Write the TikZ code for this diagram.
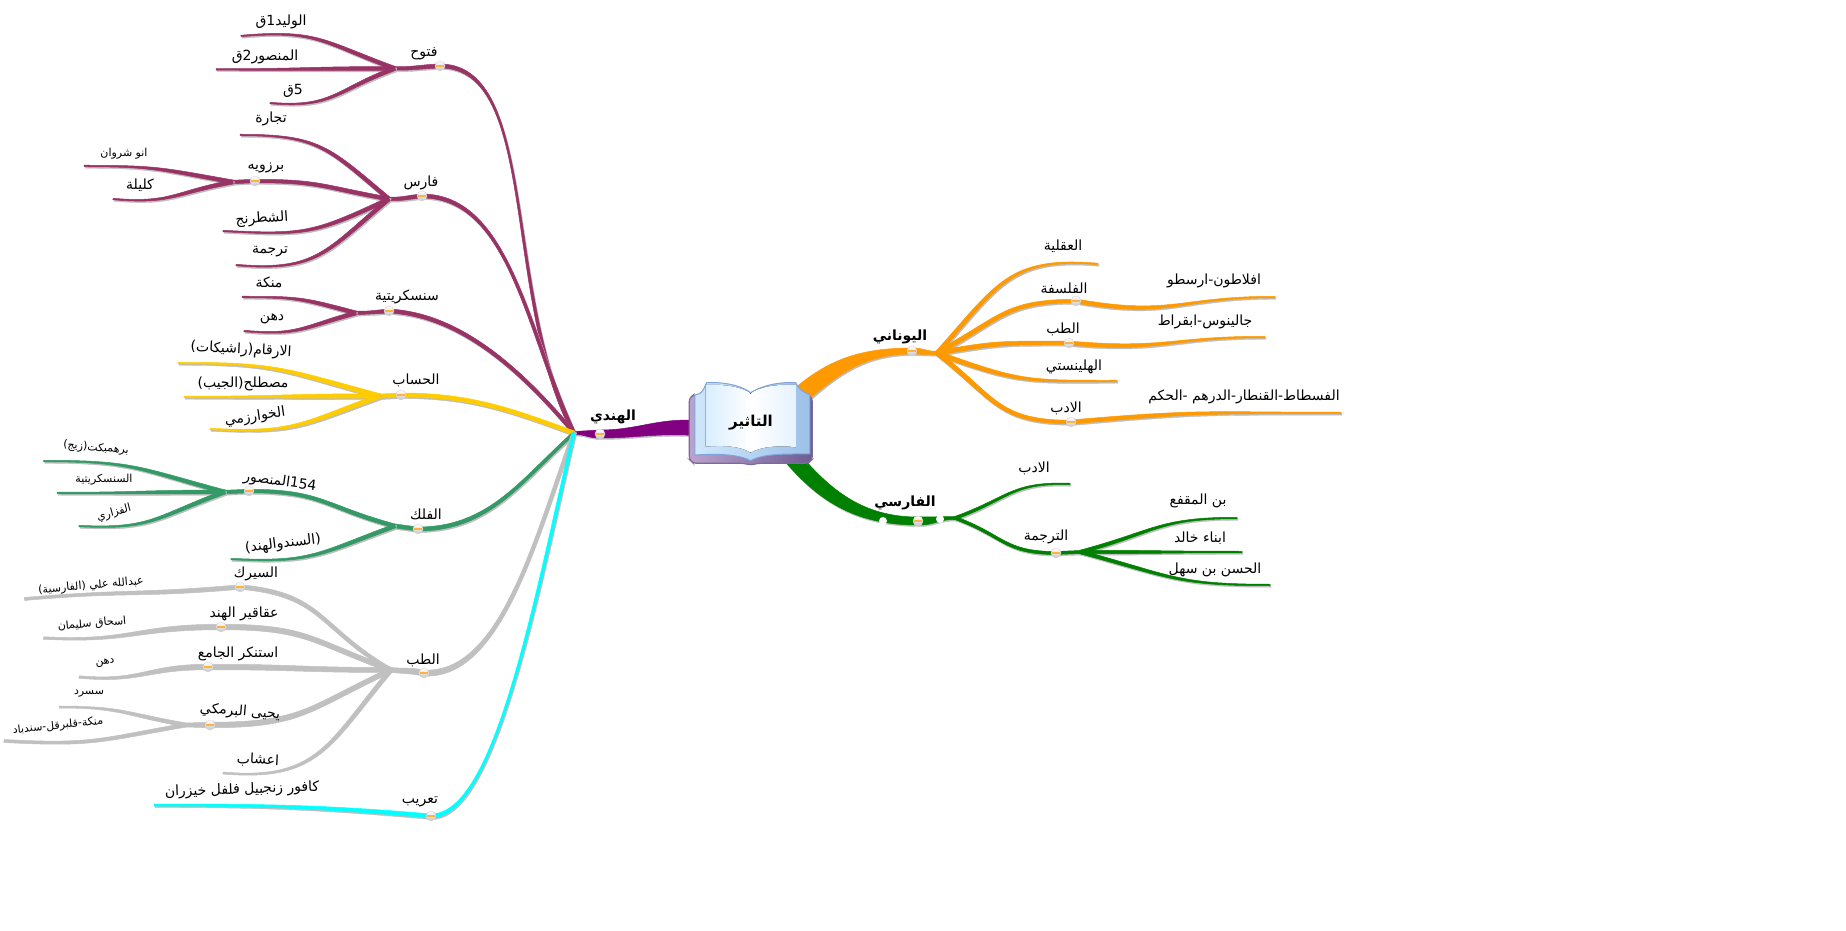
\documentclass[tikz,border=0pt]{standalone}
\usepackage{fontspec}
\newfontfamily\arabicfont[Script=Arabic]{DejaVu Sans}
\TeXXeTstate=1
\definecolor{plumc}{HTML}{993366}
\definecolor{goldc}{HTML}{FFCC00}
\definecolor{seac}{HTML}{339966}
\definecolor{greyc}{HTML}{C0C0C0}
\definecolor{cyanc}{HTML}{00FFFF}
\definecolor{purplec}{HTML}{800080}
\definecolor{orangec}{HTML}{FF9900}
\definecolor{greenc}{HTML}{008000}
\definecolor{shadowc}{HTML}{BDBDBD}
\definecolor{coverl}{HTML}{BBA3CC}
\definecolor{coverr}{HTML}{6E5C92}
\definecolor{coverb}{HTML}{7C6A9C}
\definecolor{pagel}{HTML}{CFE7FC}
\definecolor{pager}{HTML}{9CC0E8}
\definecolor{pageb}{HTML}{7FA3DE}
\definecolor{leafl}{HTML}{D8EEFF}
\definecolor{leafr}{HTML}{E6F2FF}
\tikzset{
looseout/.store in=\limbout, loosein/.store in=\limbin, looseout=1.25, loosein=1.25,
taper/.style n args={4}{to path={
    ([shift={(#3+90:#1/2)}]\tikztostart) coordinate (la)
    ([shift={(#3-90:#1/2)}]\tikztostart) coordinate (lb)
    ([shift={(#4-90:#2/2)}]\tikztotarget) coordinate (lc)
    ([shift={(#4+90:#2/2)}]\tikztotarget) coordinate (ld)
    (la) to[out=#3, in=#4, out looseness=\limbout, in looseness=\limbin] (lc) -- (ld)
    to[out=#4, in=#3, out looseness=\limbin, in looseness=\limbout] (lb) -- cycle}},
limb/.style={line width=.5pt, line join=round,
    preaction={draw=shadowc, fill=shadowc, transform canvas={shift={(1pt,-1.5pt)}}}},
plumlimb/.style={limb, draw=plumc, fill=plumc},
goldlimb/.style={limb, draw=goldc, fill=goldc},
sealimb/.style={limb, draw=seac, fill=seac},
greylimb/.style={draw=greyc, fill=greyc, line width=.5pt, line join=round},
cyanlimb/.style={limb, draw=cyanc, fill=cyanc},
purplelimb/.style={limb, draw=purplec, fill=purplec},
orangelimb/.style={limb, draw=orangec, fill=orangec},
greenlimb/.style={limb, draw=greenc, fill=greenc},
bullet/.style={circle, minimum size=10pt, inner sep=0pt, draw=gray!35, top color=white, bottom color=gray!45,
    path picture={\draw[orangec!75!white, line width=1.3pt] ([xshift=-4pt]path picture bounding box.center) -- ([xshift=4pt]path picture bounding box.center);}},
dotnode/.style={circle, minimum size=8pt, inner sep=0pt, fill=white},
lab/.style={inner sep=0pt, font=\arabicfont\fontsize{14}{16}\selectfont},
smalllab/.style={inner sep=0pt, font=\arabicfont\fontsize{11}{13}\selectfont},
headlab/.style={inner sep=0pt, font=\arabicfont\bfseries\fontsize{14}{16}\selectfont},
}
\newcommand{\rtl}[1]{\beginR #1\endR}

\begin{document}
\begin{tikzpicture}[x=1pt, y=1pt]
\useasboundingbox (0,0) rectangle (1846,930);
    \node[minimum width=123pt, minimum height=81pt, inner sep=0pt] (book) at (750.5,506.5) {};
    \coordinate (hindis) at (695,502);
    \coordinate (yunanis) at (795,530);
    \coordinate (farsis) at (790,475);
    % left side
    \coordinate (hindib) at (600,496);
    \coordinate (hindij) at (574,497);
    \coordinate (fathb) at (440,864);
    \coordinate (fathj) at (395,861.5);
    \coordinate (walid) at (241,894);
    \coordinate (mansur) at (216,860.5);
    \coordinate (kaf) at (270,827);
    \coordinate (farisb) at (422,734);
    \coordinate (farisj) at (389,731);
    \coordinate (tijara) at (240,795);
    \coordinate (barzb) at (255,749);
    \coordinate (barzj) at (233,748);
    \coordinate (anu) at (84,764);
    \coordinate (kalila) at (113,731);
    \coordinate (shatranj) at (223,699);
    \coordinate (tarjama) at (236,665);
    \coordinate (sansb) at (389,619);
    \coordinate (sansj) at (356,617);
    \coordinate (manka) at (242,633);
    \coordinate (dahan) at (244,599);
    \coordinate (hisabb) at (401,535);
    \coordinate (hisabj) at (380,534);
    \coordinate (arqam) at (178,567);
    \coordinate (mustalah) at (184,533);
    \coordinate (khwarizmi) at (210,501);
    \coordinate (falakb) at (418,401);
    \coordinate (falakj) at (395,404);
    \coordinate (mansb) at (249,439);
    \coordinate (mansj) at (225,438);
    \coordinate (brahma) at (43.5,469);
    \coordinate (sanskrit) at (57,437);
    \coordinate (fazari) at (79,404);
    \coordinate (sindh) at (231,371);
    \coordinate (tibbb) at (424,257);
    \coordinate (tibbj) at (391,260);
    \coordinate (sirkb) at (240,343);
    \coordinate (abdalla) at (24.5,331);
    \coordinate (aqaqb) at (221,303);
    \coordinate (ishaq) at (43.5,292);
    \coordinate (istankb) at (208,263);
    \coordinate (duhn) at (79,253);
    \coordinate (yahyab) at (210,205);
    \coordinate (yahyaj) at (186,205);
    \coordinate (samrad) at (59,223);
    \coordinate (qalbar) at (4,189);
    \coordinate (ashab) at (223,157);
    \coordinate (taribb) at (431,114);
    \coordinate (kafur) at (154,125);
    % right side
    \coordinate (yunanib) at (912,579);
    \coordinate (yunanij) at (937,577);
    \coordinate (aqli) at (1098,666);
    \coordinate (falsb) at (1076,629);
    \coordinate (aflatun) at (1275,633);
    \coordinate (tibrb) at (1069,587);
    \coordinate (jalinus) at (1265,593);
    \coordinate (hellen) at (1117,549);
    \coordinate (adabb) at (1071,508);
    \coordinate (fustat) at (1341,517);
    \coordinate (farsib) at (918,409);
    \coordinate (farsij) at (955,412);
    \coordinate (adabf) at (1070,446);
    \coordinate (tarb) at (1056,377);
    \coordinate (tarj) at (1080,378);
    \coordinate (muqaffa) at (1237,412);
    \coordinate (abna) at (1242,378);
    \coordinate (hasan) at (1270,345);
    \draw
        (hindis) edge[purplelimb, taper={15}{8}{176}{0}, looseout=1, loosein=1] (hindib)
        (hindib) edge[purplelimb, taper={8}{3}{180}{0}] (hindij)
        ;
    \draw
        (hindij) edge[plumlimb, taper={3.5}{4}{118}{0}, looseout=1, loosein=.65] (fathb)
        (hindij) edge[plumlimb, taper={3.5}{4}{115}{0}, looseout=1, loosein=.8] (farisb)
        (hindij) edge[plumlimb, taper={3.5}{4}{130}{-3}, looseout=1, loosein=.8] (sansb)
        (fathb) edge[plumlimb, taper={4}{3.5}{182}{0}] (fathj)
        (fathj) edge[plumlimb, taper={4}{1.5}{160}{5}] (walid)
        (fathj) edge[plumlimb, taper={4}{1.5}{180}{0}] (mansur)
        (fathj) edge[plumlimb, taper={4}{1.5}{200}{-5}] (kaf)
        (farisb) edge[plumlimb, taper={4}{3.5}{185}{0}] (farisj)
        (farisj) edge[plumlimb, taper={4}{1.5}{140}{0}] (tijara)
        (farisj) edge[plumlimb, taper={4}{3.5}{170}{0}] (barzb)
        (barzb) edge[plumlimb, taper={3.5}{3.5}{180}{0}] (barzj)
        (barzj) edge[plumlimb, taper={4}{1.5}{170}{0}] (anu)
        (barzj) edge[plumlimb, taper={4}{1.5}{190}{-5}] (kalila)
        (farisj) edge[plumlimb, taper={4}{1.5}{205}{-3}] (shatranj)
        (farisj) edge[plumlimb, taper={4}{1.5}{220}{-5}] (tarjama)
        (sansb) edge[plumlimb, taper={4}{3.5}{185}{0}] (sansj)
        (sansj) edge[plumlimb, taper={4}{1.5}{165}{0}] (manka)
        (sansj) edge[plumlimb, taper={4}{1.5}{195}{-5}] (dahan)
        ;
    \draw
        (hindij) edge[goldlimb, taper={4}{4}{160}{0}, looseout=1, loosein=1] (hisabb)
        (hisabb) edge[goldlimb, taper={4}{4}{182}{0}] (hisabj)
        (hisabj) edge[goldlimb, taper={4.5}{1.5}{165}{0}] (arqam)
        (hisabj) edge[goldlimb, taper={4.5}{1.5}{180}{0}] (mustalah)
        (hisabj) edge[goldlimb, taper={4.5}{1.5}{200}{-3}] (khwarizmi)
        ;
    \draw
        (hindij) edge[sealimb, taper={3}{4}{222}{0}, looseout=1, loosein=1] (falakb)
        (falakb) edge[sealimb, taper={4}{4}{175}{-5}] (falakj)
        (falakj) edge[sealimb, taper={4}{3.5}{165}{0}] (mansb)
        (falakj) edge[sealimb, taper={4}{1.5}{200}{-3}] (sindh)
        (mansb) edge[sealimb, taper={3.5}{3.5}{180}{0}] (mansj)
        (mansj) edge[sealimb, taper={4}{1.5}{165}{0}] (brahma)
        (mansj) edge[sealimb, taper={4}{1.5}{180}{0}] (sanskrit)
        (mansj) edge[sealimb, taper={4}{1.5}{200}{-3}] (fazari)
        ;
    \draw
        (hindij) edge[greylimb, taper={4}{6}{250}{-3}, looseout=1, loosein=.7] (tibbb)
        (tibbb) edge[greylimb, taper={6}{5}{170}{-5}] (tibbj)
        (tibbj) edge[greylimb, taper={4}{4.5}{150}{-5}] (sirkb)
        (tibbj) edge[greylimb, taper={5}{5.5}{160}{0}] (aqaqb)
        (tibbj) edge[greylimb, taper={5}{5.5}{180}{0}] (istankb)
        (tibbj) edge[greylimb, taper={5}{5.5}{205}{0}] (yahyab)
        (tibbj) edge[greylimb, taper={4.5}{2}{230}{-5}] (ashab)
        (sirkb) edge[greylimb, taper={4.5}{3}{185}{5}] (abdalla)
        (aqaqb) edge[greylimb, taper={5.5}{2.5}{180}{-3}] (ishaq)
        (istankb) edge[greylimb, taper={5.5}{2.5}{180}{-5}] (duhn)
        (yahyab) edge[greylimb, taper={5.5}{4}{180}{0}] (yahyaj)
        (yahyaj) edge[greylimb, taper={4}{2}{170}{0}] (samrad)
        (yahyaj) edge[greylimb, taper={4}{3}{190}{-3}] (qalbar)
        ;
    \draw
        (hindij) edge[cyanlimb, taper={3}{4}{257}{0}, looseout=1.1, loosein=.4] (taribb)
        (taribb) edge[cyanlimb, taper={4}{2}{175}{0}, looseout=1, loosein=1] (kafur)
        ;
    \draw
        (yunanis) edge[orangelimb, taper={18}{6}{42}{180}, looseout=1, loosein=1] (yunanib)
        (yunanib) edge[orangelimb, taper={6}{3.5}{0}{180}] (yunanij)
        (yunanij) edge[orangelimb, taper={4}{1.5}{48}{175}] (aqli)
        (yunanij) edge[orangelimb, taper={4.5}{3.5}{28}{180}] (falsb)
        (falsb) edge[orangelimb, taper={4}{1.5}{-10}{180}] (aflatun)
        (yunanij) edge[orangelimb, taper={4.5}{3.5}{10}{180}] (tibrb)
        (tibrb) edge[orangelimb, taper={4}{1.5}{-5}{180}] (jalinus)
        (yunanij) edge[orangelimb, taper={4.5}{1.5}{-20}{180}] (hellen)
        (yunanij) edge[orangelimb, taper={4.5}{3.5}{-38}{180}] (adabb)
        (adabb) edge[orangelimb, taper={4}{1.5}{5}{180}] (fustat)
        ;
    \draw
        (farsis) edge[greenlimb, taper={16}{8}{-50}{180}, looseout=1, loosein=1] (farsib)
        (farsib) edge[greenlimb, taper={8}{3}{0}{180}] (farsij)
        (farsij) edge[greenlimb, taper={3}{1.5}{20}{178}] (adabf)
        (farsij) edge[greenlimb, taper={3}{3}{-20}{180}] (tarb)
        (tarb) edge[greenlimb, taper={3}{3}{0}{180}] (tarj)
        (tarj) edge[greenlimb, taper={3.5}{1.5}{15}{180}] (muqaffa)
        (tarj) edge[greenlimb, taper={3.5}{1.5}{0}{180}] (abna)
        (tarj) edge[greenlimb, taper={3.5}{1.5}{-15}{180}] (hasan)
        ;
    % book
    \begin{scope}[shift={(560,590)}, x=.3333pt, y=-.3333pt]
    \draw[draw=coverb, line width=1.2pt, left color=coverl, right color=coverr, rounded corners=3pt]
        (400,165) -- (388,175) -- (388,358) -- (400,370) -- (550,370) -- (572,375) -- (595,370) -- (745,370) -- (757,358) -- (757,175) -- (745,165) -- cycle;
    \draw[draw=pageb, line width=1pt, left color=pagel, right color=pager]
        (405,165) .. controls (425,160) .. (440,128) .. controls (500,125) and (550,140) .. (572,158)
        .. controls (600,140) and (650,125) .. (707,128) .. controls (720,150) .. (750,165)
        -- (750,342) .. controls (680,342) and (610,340) .. (572,362) .. controls (530,340) and (460,342) .. (405,345) -- cycle;
    \fill[left color=leafl, right color=white]
        (437,135) .. controls (490,132) and (545,140) .. (572,160) -- (572,338) .. controls (540,318) and (490,315) .. (437,320) -- cycle;
    \fill[left color=white, right color=leafr]
        (572,160) .. controls (600,140) and (650,132) .. (707,135) -- (707,322) .. controls (660,315) and (600,320) .. (572,338) -- cycle;
    \end{scope}
    \node[headlab, font=\arabicfont\bfseries\fontsize{15}{17}\selectfont] (bookl) at (751,507) {\rtl{التاثير}};
    % white dots
    \node[dotnode] (dota) at (883,409) {};
    \node[dotnode] (dotb) at (940,411) {};
    \foreach \b in {hindib,fathb,farisb,barzb,sansb,hisabb,falakb,mansb,tibbb,sirkb,aqaqb,istankb,yahyab,taribb,yunanib,falsb,tibrb,adabb,farsib,tarb}
        \node[bullet] (\b dot) at (\b) {};
    % labels
    \node[headlab] (hindil) at (613,513) {\rtl{الهندي}};
    \node[lab] (fathl) at (424,876) {\rtl{فتوح}};
    \node[lab] (walidl) at (281,908) {\rtl{الوليد\beginL 1\endL ق}};
    \node[lab] (mansurl) at (265,873) {\rtl{المنصور\beginL 2\endL ق}};
    \node[lab] (kafl) at (293,839) {\rtl{\beginL 5\endL ق}};
    \node[lab] (farisl) at (421,747) {\rtl{فارس}};
    \node[lab] (tijaral) at (271,811) {\rtl{تجارة}};
    \node[lab] (barzl) at (266,762) {\rtl{برزويه}};
    \node[smalllab] (anul) at (124,776) {\rtl{انو شروان}};
    \node[lab] (kalilal) at (140,745) {\rtl{كليلة}};
    \node[lab, rotate=4] (shatranjl) at (262,711) {\rtl{الشطرنج}};
    \node[lab] (tarjamal) at (270,678) {\rtl{ترجمة}};
    \node[lab] (mankal) at (269,648) {\rtl{منكة}};
    \node[lab] (sansl) at (407,633) {\rtl{سنسكريتية}};
    \node[lab] (dahanl) at (272,611) {\rtl{دهن}};
    \node[lab] (hisabl) at (416,550) {\rtl{الحساب}};
    \node[lab, rotate=-3] (arqaml) at (241,580) {\rtl{الارقام(راشيكات)}};
    \node[lab] (mustalahl) at (243,546) {\rtl{مصطلح(الجيب)}};
    \node[lab, rotate=8] (khwarizmil) at (255,513) {\rtl{الخوارزمي}};
    \node[lab, rotate=-8] (mansl) at (280,448) {\rtl{\beginL 154\endL المنصور}};
    \node[lab] (falakl) at (426,416) {\rtl{الفلك}};
    \node[smalllab, rotate=-5] (brahmal) at (96,482) {\rtl{برهمبكت(زيج)}};
    \node[smalllab] (sanskritl) at (104,450) {\rtl{السنسكريتية}};
    \node[smalllab, rotate=15] (fazaril) at (114,417) {\rtl{الفزاري}};
    \node[lab, rotate=7] (sindhl) at (283,386) {\rtl{(السندوالهند)}};
    \node[lab] (tibbl) at (423,270) {\rtl{الطب}};
    \node[lab] (sirkl) at (256,356) {\rtl{السيرك}};
    \node[smalllab, rotate=5] (abdallal) at (91,344) {\rtl{عبدالله علي (الفارسية)}};
    \node[lab] (aqaql) at (244,316) {\rtl{عقاقير الهند}};
    \node[smalllab, rotate=5] (ishaql) at (92,306) {\rtl{اسحاق سليمان}};
    \node[lab] (istankl) at (238,276) {\rtl{استنكر الجامع}};
    \node[smalllab, rotate=10] (duhnl) at (105,267) {\rtl{دهن}};
    \node[lab, rotate=-5] (yahyal) at (240,218) {\rtl{يحيى البرمكي}};
    \node[smalllab] (samradl) at (89,236) {\rtl{سسرد}};
    \node[smalllab, rotate=6] (qalbarl) at (58,204) {\rtl{منكة-قلبرقل-سندباد}};
    \node[lab, rotate=-3] (ashabl) at (258,170) {\rtl{اعشاب}};
    \node[lab] (taribl) at (420,128) {\rtl{تعريب}};
    \node[lab, rotate=2] (kaful) at (242,140) {\rtl{كافور زنجبيل فلفل خيزران}};
    \node[headlab] (yunanil) at (900,593) {\rtl{اليوناني}};
    \node[lab] (aqlil) at (1063,684) {\rtl{العقلية}};
    \node[lab] (falsl) at (1064,642) {\rtl{الفلسفة}};
    \node[lab] (aflatunl) at (1214,649) {\rtl{افلاطون-ارسطو}};
    \node[lab] (tibrl) at (1063,601) {\rtl{الطب}};
    \node[lab] (jalinusl) at (1205,608) {\rtl{جالينوس-ابقراط}};
    \node[lab] (hellenl) at (1074,563) {\rtl{الهلينستي}};
    \node[lab] (adabl) at (1066,522) {\rtl{الادب}};
    \node[lab] (fustatl) at (1244,533) {\rtl{الفسطاط-القنطار-الدرهم -الحكم}};
    \node[headlab] (farsil) at (905,427) {\rtl{الفارسي}};
    \node[lab] (adabfl) at (1034,462) {\rtl{الادب}};
    \node[lab] (tarl) at (1046,393) {\rtl{الترجمة}};
    \node[lab] (muqaffal) at (1198,429) {\rtl{بن المقفع}};
    \node[lab] (abnal) at (1200,392) {\rtl{ابناء خالد}};
    \node[lab] (hasanl) at (1215,360) {\rtl{الحسن بن سهل}};
\end{tikzpicture}
\end{document}
